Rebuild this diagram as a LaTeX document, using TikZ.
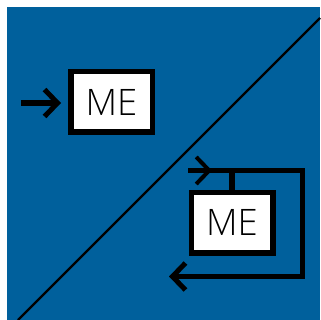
\documentclass[tikz,border=0pt]{standalone}
\usepackage{fontspec}
\setmainfont{Open Sans Light}
\usetikzlibrary{arrows.meta}
\definecolor{bluebg}{HTML}{00609C}
\tikzset{
  mebox/.style={draw=black,fill=white,line width=5.5pt,minimum width=81.5pt,minimum height=60.5pt,inner sep=0pt,font=\fontsize{36.5}{36.5}\selectfont},
  conn/.style={draw=black,line width=5.5pt},
  barb/.style={-{Straight Barb[length=13pt,width=27pt,line width=5pt]}},
  thinbarb/.style={-{Straight Barb[length=13pt,width=27pt,line width=4pt]}}
}
\begin{document}
\begin{tikzpicture}[x=1pt,y=-1pt]
\useasboundingbox (0,0) rectangle (320,320);
\fill[bluebg] (7,7) rectangle (320,320);
\coordinate (d1) at (18,320);
\coordinate (d2) at (320,18);
\draw[black,line width=2.4pt] (d1) -- (d2);
\node[mebox] (a) at (111.5,102) {ME};
\node[mebox] (b) at (232,222.5) {ME};
\coordinate (a0) at (21,103);
\coordinate (a1) at (61,103);
\draw[conn,barb] (a0) -- (a1);
\coordinate (s) at (188,170.5);
\coordinate (m) at (212,170.5);
\coordinate (c1) at (302.5,170.5);
\coordinate (c2) at (302.5,276.5);
\coordinate (e) at (169,276.5);
\coordinate (t) at (b.north |- s);
\draw[conn,barb,line join=miter] (s) -- (c1) -- (c2) -- (e);
\draw[draw=black,line width=1pt,thinbarb] (s) -- (m);
\draw[conn] (t) -- (b.north);
\end{tikzpicture}
\end{document}
